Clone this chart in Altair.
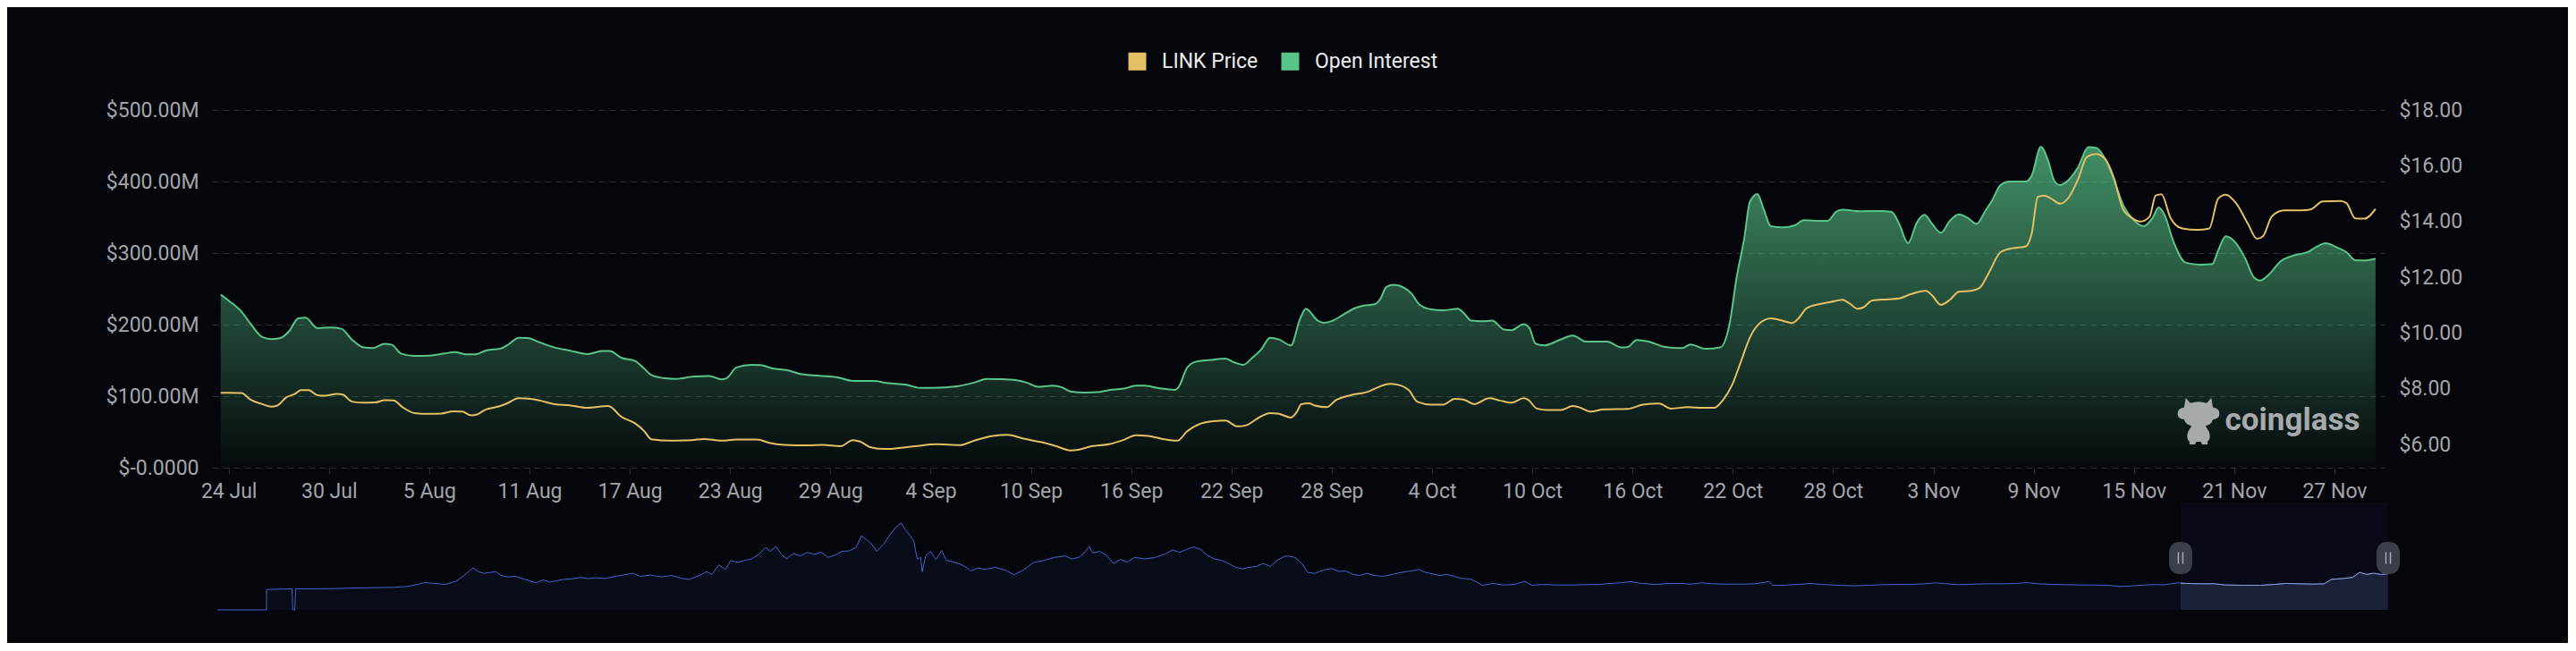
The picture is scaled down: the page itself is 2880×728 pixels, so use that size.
import altair as alt
import pandas as pd

# ---------------- data ----------------
BASE = "2023-07-23"          # day 0 of the day offsets below
X_START = "2023-07-23"
X_END = "2023-11-30"
NAV_START = "2020-03-07"

SERIES = ["LINK Price", "Open Interest"]

tick_dates = ["2023-07-24", "2023-07-30", "2023-08-05", "2023-08-11", "2023-08-17",
              "2023-08-23", "2023-08-29", "2023-09-04", "2023-09-10", "2023-09-16",
              "2023-09-22", "2023-09-28", "2023-10-04", "2023-10-10", "2023-10-16",
              "2023-10-22", "2023-10-28", "2023-11-03", "2023-11-09", "2023-11-15",
              "2023-11-21", "2023-11-27"]
oi_ticks = [0, 100, 200, 300, 400, 500]          # $M
price_ticks = [6, 8, 10, 12, 14, 16, 18]         # $

# Open interest (million USD), day offset from 23 Jul 2023
oi_day = [
    0.52, 1.05, 1.77, 2.30, 3.01, 3.55, 4.09, 4.62, 5.16, 5.60,
    6.31, 7.12, 7.74, 8.37, 9.08, 9.62, 10.33, 10.77, 11.31, 12.11,
    13.0, 13.9, 14.52, 15.23, 15.77, 16.39, 17.29, 17.73, 18.36, 18.89,
    19.61, 20.5, 21.39, 22.46, 23.35, 23.8, 24.51, 25.31, 25.85, 26.29,
    27.1, 27.81, 28.7, 29.77, 30.49, 30.84, 31.38, 32.27, 32.81, 33.52,
    34.41, 35.3, 36.37, 37.44, 38.34, 39.58, 40.48, 41.55, 42.35, 43.15,
    44.58, 45.65, 46.36, 47.08, 48.15, 48.86, 49.4, 50.29, 50.82, 51.36,
    52.25, 52.96, 53.68, 54.57, 55.28, 55.82, 56.71, 57.6, 57.87, 58.32,
    58.85, 59.74, 60.64, 61.17, 61.71, 62.24, 62.78, 63.31, 63.85, 64.56,
    65.1, 65.45, 66.17, 66.52, 67.06, 67.77, 68.31, 68.84, 69.56, 69.91,
    70.27, 70.72, 71.34, 71.79, 72.23, 72.95, 73.66, 74.55, 74.91, 75.35,
    75.98, 76.6, 77.32, 77.76, 78.48, 78.83, 79.19, 79.72, 80.62, 81.42,
    82.22, 83.47, 84.36, 84.72, 85.25, 85.97, 86.86, 87.93, 88.47, 89.36,
    90.25, 90.79, 91.23, 91.68, 92.03, 92.48, 92.84, 93.28, 94.0, 94.71,
    95.25, 95.96, 96.67, 97.21, 97.57, 98.64, 99.88, 100.51, 100.95, 101.49,
    102.02, 102.47, 102.92, 103.45, 103.99, 104.52, 105.06, 105.59, 106.13, 106.48,
    107.02, 107.56, 108.54, 108.89, 109.43, 109.88, 110.23, 110.59, 110.95, 111.66,
    112.28, 112.73, 113.26, 113.8, 114.34, 114.87, 115.58, 116.12, 116.48, 116.83,
    117.37, 118.08, 118.97, 119.69, 120.04, 120.49, 120.94, 121.65, 122.18, 122.54,
    123.08, 123.79, 124.5, 125.4, 125.93, 126.47, 127.18, 127.72, 128.25, 128.79,
    129.46]
oi_musd = [
    241.7, 232.6, 218.0, 201.3, 182.6, 179.6, 181.3, 190.9, 208.8, 209.6,
    195.1, 195.9, 194.2, 179.2, 168.0, 167.1, 173.0, 171.7, 159.6, 156.3,
    156.7, 159.6, 161.7, 158.4, 158.4, 163.8, 166.7, 172.2, 181.7, 181.3,
    175.1, 168.0, 163.8, 158.8, 163.0, 163.0, 153.4, 149.2, 138.8, 129.6,
    125.1, 124.2, 127.1, 128.0, 123.4, 125.9, 140.1, 143.8, 143.4, 138.8,
    136.3, 130.5, 128.4, 126.3, 121.3, 121.3, 118.0, 115.9, 111.7, 111.7,
    113.8, 119.2, 124.2, 123.8, 122.2, 118.0, 113.0, 114.6, 112.6, 106.7,
    105.1, 105.5, 108.4, 110.5, 114.6, 114.6, 110.9, 108.8, 113.8, 138.8,
    148.0, 150.5, 152.6, 147.2, 143.8, 153.4, 165.1, 181.7, 179.2, 170.9,
    207.6, 222.2, 205.5, 202.6, 205.5, 215.1, 222.2, 226.3, 228.4, 235.9,
    252.6, 255.5, 251.3, 243.0, 228.4, 221.3, 220.0, 222.2, 215.9, 205.5,
    204.6, 205.5, 193.0, 192.2, 200.5, 195.1, 173.4, 170.9, 178.4, 184.7,
    176.3, 176.3, 168.0, 168.8, 178.4, 176.3, 169.2, 167.1, 172.2, 166.1,
    168.0, 199.2, 265.9, 320.1, 372.1, 382.6, 361.7, 337.6, 335.9, 338.8,
    345.9, 345.1, 345.1, 358.4, 360.5, 358.4, 358.8, 357.6, 340.9, 313.8,
    343.0, 353.4, 340.9, 328.4, 345.1, 354.2, 349.2, 340.9, 359.7, 372.1,
    395.1, 400.1, 400.1, 408.4, 448.4, 428.4, 401.3, 395.1, 399.2, 420.1,
    448.0, 447.2, 432.6, 403.4, 368.0, 349.2, 337.6, 349.2, 363.8, 353.4,
    315.9, 286.7, 283.8, 284.6, 303.4, 323.4, 318.0, 293.0, 265.9, 261.7,
    270.1, 288.8, 296.3, 301.3, 308.8, 313.8, 307.6, 301.3, 290.1, 289.6,
    292.2]

# LINK price (USD), day offset from 23 Jul 2023
price_day = [
    0.52, 1.77, 2.30, 3.01, 3.55, 3.91, 4.44, 4.98, 5.33, 5.78,
    6.31, 6.76, 7.47, 7.83, 8.37, 9.08, 9.79, 10.33, 10.86, 11.40,
    12.11, 13.0, 13.72, 14.43, 14.97, 15.50, 15.86, 16.39, 17.11, 17.64,
    18.36, 18.89, 19.61, 20.5, 21.39, 22.46, 23.71, 24.51, 25.31, 25.85,
    26.29, 27.45, 28.7, 29.42, 30.49, 31.38, 32.63, 33.34, 34.23, 35.66,
    36.55, 37.62, 38.34, 38.78, 39.41, 40.3, 41.19, 42.08, 43.33, 44.76,
    45.65, 46.72, 47.61, 48.5, 49.58, 50.47, 51.36, 51.89, 52.61, 53.68,
    54.57, 55.28, 56.0, 56.89, 57.78, 58.32, 59.21, 59.92, 60.64, 61.35,
    61.88, 62.6, 63.31, 63.85, 64.56, 64.92, 65.18, 65.63, 65.99, 66.7,
    67.24, 68.13, 69.2, 69.91, 70.45, 70.98, 71.61, 72.14, 72.95, 73.66,
    74.37, 74.91, 75.53, 76.42, 77.05, 77.76, 78.48, 78.74, 79.28, 79.9,
    80.71, 81.42, 81.78, 82.49, 83.29, 84.72, 85.61, 86.59, 87.31, 88.29,
    89.18, 89.89, 90.43, 90.96, 91.5, 92.03, 92.57, 93.28, 94.0, 94.53,
    94.89, 95.42, 96.14, 96.85, 97.56, 98.01, 98.46, 98.81, 99.35, 100.24,
    100.95, 101.67, 102.56, 102.92, 103.45, 103.99, 104.52, 105.24, 105.77, 106.31,
    107.02, 107.73, 108.54, 108.89, 109.25, 109.61, 110.05, 110.59, 111.12, 111.66,
    112.19, 112.73, 113.26, 113.8, 114.34, 114.87, 115.41, 115.94, 116.3, 116.65,
    117.19, 117.9, 118.8, 119.51, 120.04, 120.49, 121.11, 121.83, 122.36, 122.72,
    123.25, 123.97, 125.04, 125.57, 126.29, 127.36, 127.72, 128.25, 128.79, 129.46]
price_usd = [
    7.86, 7.85, 7.61, 7.45, 7.36, 7.40, 7.69, 7.82, 7.95, 7.95,
    7.77, 7.75, 7.82, 7.79, 7.54, 7.50, 7.51, 7.59, 7.58, 7.34,
    7.13, 7.10, 7.11, 7.19, 7.18, 7.05, 7.08, 7.26, 7.36, 7.47,
    7.66, 7.65, 7.58, 7.45, 7.41, 7.32, 7.38, 6.99, 6.76, 6.49,
    6.19, 6.14, 6.16, 6.20, 6.14, 6.18, 6.18, 6.06, 5.99, 5.97,
    5.99, 5.94, 6.16, 6.11, 5.90, 5.84, 5.88, 5.94, 6.01, 5.98,
    6.15, 6.31, 6.35, 6.22, 6.09, 5.95, 5.79, 5.82, 5.94, 6.01,
    6.17, 6.33, 6.31, 6.20, 6.14, 6.46, 6.76, 6.84, 6.86, 6.65,
    6.69, 6.95, 7.13, 7.10, 6.97, 7.18, 7.45, 7.48, 7.40, 7.34,
    7.59, 7.77, 7.90, 8.09, 8.18, 8.14, 7.95, 7.53, 7.43, 7.43,
    7.64, 7.61, 7.45, 7.66, 7.58, 7.50, 7.66, 7.61, 7.29, 7.24,
    7.24, 7.38, 7.34, 7.18, 7.26, 7.28, 7.43, 7.47, 7.29, 7.34,
    7.32, 7.32, 7.61, 8.14, 9.00, 9.85, 10.33, 10.53, 10.44, 10.36,
    10.50, 10.89, 11.03, 11.11, 11.19, 11.05, 10.87, 10.92, 11.17, 11.21,
    11.24, 11.40, 11.51, 11.35, 11.01, 11.19, 11.48, 11.51, 11.62, 12.15,
    12.90, 13.04, 13.11, 13.59, 14.88, 14.93, 14.82, 14.64, 14.88, 15.52,
    16.32, 16.42, 16.26, 15.57, 14.45, 14.13, 14.00, 14.18, 14.93, 14.98,
    14.13, 13.75, 13.70, 13.75, 14.82, 14.96, 14.66, 13.91, 13.38, 13.47,
    14.18, 14.40, 14.40, 14.43, 14.72, 14.74, 14.66, 14.11, 14.10, 14.45]

# navigator (data-zoom) shadow: day offset from 23 Jul 2023, relative height (%)
nav_day = [
    -1229.5, -1198.9, -1198.8, -1182.8, -1182.4, -1181.1, -1180.6, -1167.5, -1150.1, -1132.7,
    -1119.6, -1110.9, -1104.3, -1100.0, -1093.4, -1086.9, -1080.3, -1075.1, -1071.6, -1069.4,
    -1066.4, -1062.9, -1058.5, -1055.1, -1052.0, -1047.6, -1043.3, -1038.9, -1034.6, -1030.2,
    -1025.8, -1021.5, -1017.1, -1012.8, -1008.4, -1001.9, -997.5, -993.1, -986.6, -980.1,
    -973.5, -969.2, -964.8, -958.3, -951.7, -945.2, -938.6, -934.3, -929.9, -925.6,
    -923.4, -919.9, -915.5, -911.2, -908.1, -903.8, -899.4, -895.0, -890.7, -886.3,
    -883.3, -879.8, -876.3, -873.2, -868.9, -864.5, -860.2, -855.8, -851.4, -847.1,
    -842.7, -838.4, -834.0, -829.6, -826.2, -823.1, -819.6, -816.6, -812.2, -807.8,
    -804.8, -801.3, -799.1, -796.1, -793.4, -791.3, -789.1, -788.2, -786.0, -783.0,
    -779.5, -776.0, -773.0, -768.6, -764.2, -759.9, -757.7, -753.3, -749.0, -742.4,
    -735.9, -730.7, -725.0, -718.5, -711.9, -705.4, -698.8, -694.5, -690.1, -685.8,
    -683.6, -681.4, -677.0, -672.7, -668.3, -664.0, -659.6, -655.2, -648.7, -642.2,
    -635.6, -631.3, -626.9, -622.6, -618.2, -613.8, -609.5, -605.1, -600.7, -596.4,
    -592.0, -587.7, -583.3, -578.9, -574.6, -570.2, -565.9, -561.5, -559.2, -554.8,
    -550.3, -546.8, -542.4, -537.0, -531.7, -527.3, -522.9, -518.4, -514.0, -509.6,
    -505.1, -499.4, -493.6, -488.3, -481.7, -477.2, -472.8, -468.4, -463.9, -459.5,
    -455.1, -450.6, -444.9, -441.8, -437.3, -430.7, -424.0, -417.4, -410.8, -406.3,
    -399.7, -390.8, -381.9, -373.1, -364.2, -357.6, -350.9, -344.3, -337.6, -328.8,
    -319.9, -313.3, -306.6, -300.0, -293.3, -284.5, -275.6, -266.7, -260.1, -257.9,
    -255.7, -249.0, -240.2, -231.3, -222.4, -213.6, -204.7, -195.8, -187.0, -178.1,
    -169.2, -160.4, -153.7, -147.1, -138.2, -129.4, -120.5, -111.6, -102.8, -96.1,
    -89.5, -80.6, -71.8, -62.9, -54.0, -45.2, -38.5, -31.9, -25.2, -18.6,
    -9.7, -1.7, 0.0, 3.6, 12.4, 21.3, 27.9, 39.0, 50.1, 59.0,
    65.6, 74.5, 83.3, 90.0, 94.4, 101.0, 107.7, 112.1, 116.6, 121.0, 125.4, 129.9]
nav_level = [
    0, 0, 19.0, 19.6, 0, 0, 19.6, 19.6, 20.1, 20.7,
    21.0, 21.8, 23.7, 25.4, 24.6, 23.7, 26.6, 32.1, 36.3, 39.1,
    35.8, 34.1, 34.9, 35.8, 32.1, 30.7, 31.3, 29.3, 27.4, 25.1,
    27.9, 26.0, 27.1, 28.5, 28.8, 30.2, 29.1, 29.9, 29.3, 31.3,
    33.0, 34.1, 31.3, 32.4, 30.7, 32.1, 29.3, 28.5, 30.7, 33.5,
    35.8, 33.0, 41.9, 37.7, 46.1, 44.1, 46.1, 47.5, 51.7, 58.1,
    54.5, 59.2, 51.7, 47.5, 52.5, 50.3, 53.6, 51.7, 53.6, 48.9,
    51.1, 54.5, 55.0, 58.1, 69.0, 65.6, 60.9, 54.5, 61.5, 71.2,
    76.8, 81.0, 75.4, 69.8, 64.3, 47.5, 48.9, 35.5, 50.3, 54.5,
    46.9, 55.3, 46.1, 44.7, 42.5, 39.1, 36.3, 39.1, 37.7, 39.7,
    37.0, 32.7, 37.0, 44.1, 46.1, 48.9, 50.3, 47.5, 48.9, 54.5,
    59.2, 53.1, 54.5, 50.8, 43.3, 46.9, 44.7, 48.9, 47.5, 48.9,
    52.5, 55.9, 53.6, 56.4, 58.6, 56.4, 50.8, 47.5, 46.1, 43.3,
    39.7, 38.3, 39.7, 40.5, 43.3, 40.5, 46.1, 49.7, 50.3, 48.9,
    43.3, 34.9, 34.1, 37.0, 38.6, 35.8, 36.3, 33.0, 32.1, 34.1,
    32.1, 31.3, 33.0, 34.9, 36.3, 37.7, 34.9, 33.5, 32.1, 33.0,
    31.3, 29.3, 28.8, 26.6, 22.9, 24.6, 23.2, 23.7, 26.6, 22.9,
    23.7, 23.2, 23.2, 23.5, 23.7, 24.6, 25.2, 26.3, 24.6, 23.7,
    24.6, 24.6, 24.0, 25.2, 24.3, 24.0, 24.0, 24.3, 25.7, 26.6,
    22.9, 22.9, 23.7, 24.6, 23.5, 22.9, 22.4, 22.9, 23.5, 23.7,
    23.7, 24.3, 25.2, 24.3, 23.5, 24.0, 24.3, 24.3, 24.6, 25.4,
    24.3, 23.7, 23.5, 23.2, 23.2, 22.9, 21.8, 22.1, 22.9, 23.5,
    23.5, 25.2, 24.9, 24.6, 24.3, 24.3, 23.2, 22.9, 22.9, 23.7,
    24.6, 24.3, 24.0, 24.3, 28.5, 29.1, 30.2, 34.9, 33.0, 34.1, 33.0, 33.5]

watermark = ["coinglass"]

# ---------------- styling ----------------
BG = "#04060b"
YELLOW = "#e5bf63"
GREEN = "#5ac58a"
GRID = "#2a2d33"
LABEL = "#a3a5aa"
FONT = "Roboto"


def dt(s):
    t = pd.Timestamp(s)
    return alt.DateTime(year=t.year, month=t.month, date=t.day)


def to_dates(days):
    return pd.Timestamp(BASE) + pd.to_timedelta(days, unit="D")


oi_df = pd.DataFrame({"date": to_dates(oi_day), "oi": oi_musd, "series": SERIES[1]})
price_df = pd.DataFrame({"date": to_dates(price_day), "price": price_usd, "series": SERIES[0]})
nav_df = pd.DataFrame({"day": nav_day, "date": to_dates(nav_day), "level": nav_level})
nav_sel_df = nav_df[nav_df["day"] >= 0]

x_enc = alt.X(
    "date:T", title=None,
    scale=alt.Scale(domain=[dt(X_START), dt(X_END)]),
    axis=alt.Axis(values=[dt(s) for s in tick_dates], format="%-d %b", grid=False,
                  domain=False, ticks=True, tickColor=GRID, tickSize=7, tickWidth=1,
                  labelPadding=8, labelFontSize=23, labelColor=LABEL, labelFont=FONT,
                  labelFlush=False, labelOverlap=False),
)
oi_y = alt.Y(
    "oi:Q", title=None,
    scale=alt.Scale(domain=[0, 500], nice=False, zero=True),
    axis=alt.Axis(values=oi_ticks,
                  labelExpr="datum.value == 0 ? '$-0.0000' : '$' + format(datum.value, '.2f') + 'M'",
                  grid=True, gridColor=GRID, gridDash=[7, 5], gridWidth=1,
                  domain=False, ticks=False, labelPadding=15, labelFontSize=23,
                  labelColor=LABEL, labelFont=FONT),
)
price_y = alt.Y(
    "price:Q", title=None,
    scale=alt.Scale(domain=[5.17, 18], nice=False, zero=False),
    axis=alt.Axis(orient="right", values=price_ticks, format="$.2f", grid=False,
                  domain=False, ticks=False, labelPadding=16, labelFontSize=23,
                  labelColor=LABEL, labelFont=FONT),
)
legend = alt.Legend(title=None, orient="none", legendX=1023, legendY=-66,
                    direction="horizontal", symbolType="square", symbolSize=100,
                    symbolStrokeWidth=10, symbolOpacity=1, labelFontSize=23,
                    labelColor="#ececec", labelFont=FONT, labelOffset=16,
                    columnPadding=10, padding=0)
color = alt.Color("series:N", scale=alt.Scale(domain=SERIES, range=[YELLOW, GREEN]),
                  legend=legend)

gradient = alt.Gradient(
    gradient="linear",
    stops=[alt.GradientStop(color="rgba(88,196,137,0.72)", offset=0),
           alt.GradientStop(color="rgba(88,196,137,0.02)", offset=1)],
    x1=1, x2=1, y1=0, y2=1,
)

area = alt.Chart(oi_df).mark_area(interpolate="monotone", color=gradient).encode(
    x=x_enc, y=oi_y)
oi_line = alt.Chart(oi_df).mark_line(interpolate="monotone", strokeWidth=2).encode(
    x=x_enc, y=oi_y, color=color)
price_line = alt.Chart(price_df).mark_line(interpolate="monotone", strokeWidth=2).encode(
    x=x_enc, y=price_y, color=color)

BULL = ("M -0.55 -1 L -0.35 -0.78 Q 0 -0.9 0.35 -0.78 L 0.55 -1 L 0.62 -0.6 "
        "Q 0.92 -0.55 0.9 -0.3 Q 0.88 -0.1 0.62 -0.08 Q 0.55 0.15 0.3 0.2 L 0.45 0.45 "
        "Q 0.55 0.75 0.4 0.85 L 0.38 1 L 0.15 1 L 0.1 0.88 L -0.1 0.88 L -0.15 1 "
        "L -0.38 1 L -0.4 0.85 Q -0.55 0.75 -0.45 0.45 L -0.3 0.2 Q -0.55 0.15 -0.62 -0.08 "
        "Q -0.88 -0.1 -0.9 -0.3 Q -0.92 -0.55 -0.62 -0.6 Z")
wm_df = pd.DataFrame({"t": watermark})
wm_logo = alt.Chart(wm_df).mark_point(shape=BULL, size=2704, filled=True, color="#a7aaad",
                                      opacity=1, strokeWidth=0).encode(
    x=alt.value(2221), y=alt.value(348))
wm_text = alt.Chart(wm_df).mark_text(font=FONT, fontSize=35, fontWeight="bold",
                                     color="#a7aaad", align="center",
                                     baseline="alphabetic").encode(
    text="t:N", x=alt.value(2326), y=alt.value(358))

# invisible background-coloured anchors fixing the page corners of the layout
anchor_tl = alt.Chart(wm_df).mark_rule(color=BG, strokeWidth=1).encode(
    x=alt.value(-228), x2=alt.value(-228), y=alt.value(-114), y2=alt.value(-113))
anchor_br = alt.Chart(wm_df).mark_rule(color=BG, strokeWidth=1).encode(
    x=alt.value(2633), x2=alt.value(2633), y=alt.value(594), y2=alt.value(595))

main = alt.layer(alt.layer(area, oi_line), price_line, wm_logo, wm_text,
                 anchor_tl, anchor_br).resolve_scale(
    y="independent").properties(width=2429, height=400)

# ---------------- navigator ----------------
nav_scale = alt.Scale(domain=[dt(NAV_START), dt(X_END)])
nav_x = alt.X("date:T", scale=nav_scale, axis=None)
nav_y = alt.Y("level:Q", scale=alt.Scale(domain=[0, 100], nice=False), axis=None)
win_df = pd.DataFrame({"start": [pd.Timestamp(X_START)], "end": [pd.Timestamp(X_END)]})
hdl_df = pd.DataFrame({"date": [pd.Timestamp(X_START), pd.Timestamp(X_END)]})

window = alt.Chart(win_df).mark_rect(color="#080b17").encode(
    x=alt.X("start:T", scale=nav_scale, axis=None), x2="end:T",
    y=alt.value(0), y2=alt.value(120))
nav_area = alt.Chart(nav_df).mark_area(
    fill="#0b1020", line=alt.OverlayMarkDef(color="#4265cc", strokeWidth=1)).encode(
    x=nav_x, y=nav_y)
nav_sel = alt.Chart(nav_sel_df).mark_area(
    fill="#222a46", line=alt.OverlayMarkDef(color="#8d9fd9", strokeWidth=1)).encode(
    x=nav_x, y=nav_y)

PILL = ("M -0.72 -0.28 Q -0.72 -1 0 -1 Q 0.72 -1 0.72 -0.28 L 0.72 0.28 "
        "Q 0.72 1 0 1 Q -0.72 1 -0.72 0.28 Z")
GRIP = "M -0.14 -0.36 L -0.14 0.36 M 0.14 -0.36 L 0.14 0.36"
handles = alt.Chart(hdl_df).mark_point(shape=PILL, size=1296, filled=True,
                                       color="#3b3e4b", opacity=1, strokeWidth=0).encode(
    x=nav_x, y=alt.value(62))
grips = alt.Chart(hdl_df).mark_point(shape=GRIP, size=1296, filled=False,
                                     color="#a9adb8", opacity=1, strokeWidth=1.5).encode(
    x=nav_x, y=alt.value(62))

nav = alt.layer(window, nav_area, nav_sel, handles, grips).properties(width=2433, height=120)

chart = alt.vconcat(main, nav, spacing=39, bounds="flush").properties(
    padding=0
).configure(background=BG, font=FONT).configure_view(stroke=None)

chart.save("out.html", embed_options={"renderer": "svg", "actions": False})
